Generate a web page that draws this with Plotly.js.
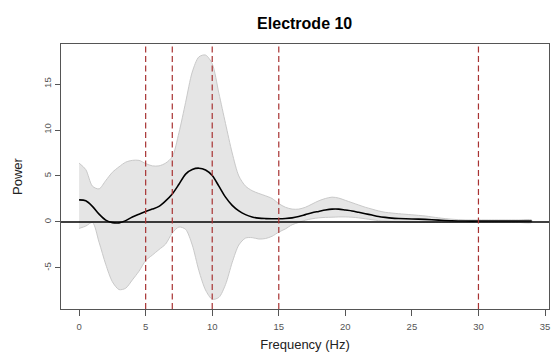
<!DOCTYPE html>
<html>
<head>
<meta charset="utf-8">
<script src="https://cdn.plot.ly/plotly-3.0.1.min.js"></script>
<style>html,body{margin:0;padding:0;background:#fff}</style>
</head>
<body>
<div id="chart" style="width:551px;height:360px"></div>
<script>
var freq  = [0,0.5,1,1.5,2,2.5,3,3.5,4,4.5,5,5.5,6,6.5,7,7.5,8,8.5,9,9.5,10,10.5,11,11.5,12,12.5,13,13.5,14,14.5,15,15.5,16,16.5,17,17.5,18,18.5,19,19.5,20,20.5,21,21.5,22,22.5,23,23.5,24,25,26,27,28,29,30,31,32,33,34];
var meanPower = [2.4,2.3,1.7,0.85,0.2,-0.07,-0.1,0.15,0.55,0.85,1.15,1.4,1.7,2.3,3.05,4.1,5.2,5.7,5.85,5.65,5.05,3.9,2.7,1.8,1.2,0.8,0.55,0.42,0.37,0.35,0.35,0.38,0.45,0.6,0.8,1.0,1.15,1.3,1.4,1.4,1.3,1.2,1.05,0.9,0.75,0.6,0.5,0.42,0.38,0.33,0.28,0.2,0.13,0.1,0.1,0.1,0.1,0.1,0.1];
var upperPower = [6.4,5.7,3.9,3.6,4.5,5.4,6.0,6.5,6.7,6.7,6.35,6.1,6.1,6.4,7.1,9.7,13.0,16.3,17.95,18.15,17.2,14.0,10.7,7.5,5.0,3.9,3.4,3.1,2.85,2.55,2.0,1.6,1.4,1.4,1.6,1.95,2.3,2.55,2.7,2.6,2.35,2.1,1.85,1.6,1.4,1.2,1.05,0.97,0.9,0.78,0.65,0.45,0.3,0.22,0.22,0.22,0.22,0.22,0.22];
var lowerPower = [-0.7,-0.45,-0.05,-2.2,-4.6,-6.5,-7.35,-7.2,-6.3,-5.35,-4.2,-3.6,-3.0,-2.4,-1.2,-0.55,-0.8,-2.5,-5.3,-7.4,-8.4,-8.2,-6.8,-4.4,-2.5,-1.75,-1.7,-1.85,-1.8,-1.55,-1.1,-0.75,-0.3,-0.05,0.2,0.35,0.45,0.5,0.52,0.55,0.55,0.52,0.45,0.35,0.25,0.15,0.1,0.05,0.0,-0.05,-0.05,-0.05,-0.05,-0.05,-0.05,-0.05,-0.05,-0.05,-0.05];
var bandLines = [5,7,10,15,30];
var xTicks = [0,5,10,15,20,25,30,35];
var yTicks = [-5,0,5,10,15];

var bandX = freq.concat(freq.slice().reverse());
var bandY = upperPower.concat(lowerPower.slice().reverse());

var traces = [
  {x: bandX, y: bandY, type: 'scatter', mode: 'lines', fill: 'toself',
   fillcolor: '#e5e5e5', line: {color: '#c9c9c9', width: 1, shape: 'spline', smoothing: 0.8},
   hoverinfo: 'skip', showlegend: false},
  {x: freq, y: meanPower, type: 'scatter', mode: 'lines',
   line: {color: '#000', width: 1.6, shape: 'spline', smoothing: 0.8}, showlegend: false}
];

var shapes = [{type: 'line', xref: 'paper', x0: 0, x1: 1, yref: 'y', y0: 0, y1: 0,
               line: {color: '#000', width: 1.3}}];
bandLines.forEach(function (f) {
  shapes.push({type: 'line', xref: 'x', x0: f, x1: f, yref: 'paper', y0: 0, y1: 1,
               line: {color: '#a83232', width: 1.2, dash: '6px,3.5px'}});
});

var layout = {
  width: 551, height: 360,
  margin: {l: 61, r: 2, t: 44, b: 51},
  paper_bgcolor: '#fff', plot_bgcolor: '#fff',
  font: {family: 'Liberation Sans, Arial, sans-serif', color: '#222'},
  title: {text: '<b>Electrode 10</b>', font: {size: 16, color: '#000'},
          x: 0.553, xanchor: 'center', y: 1 - 23/360, yanchor: 'middle', yref: 'container'},
  xaxis: {range: [-1.36, 35.3], tickvals: xTicks, ticktext: xTicks.map(String),
          showgrid: false, zeroline: false, showline: true, mirror: true,
          linecolor: '#555', linewidth: 1, ticks: 'outside', ticklen: 6, tickcolor: '#555',
          ticklabelstandoff: 3,
          tickfont: {size: 9.5, color: '#555'},
          title: {text: 'Frequency (Hz)', font: {size: 13, color: '#222'}, standoff: 8}},
  yaxis: {range: [-9.46, 19.35], tickvals: yTicks, ticktext: yTicks.map(String),
          showgrid: false, zeroline: false, showline: true, mirror: true,
          linecolor: '#555', linewidth: 1, ticks: 'outside', ticklen: 5, tickcolor: '#555',
          tickangle: -90, tickfont: {size: 9.5, color: '#555'},
          title: {text: 'Power', font: {size: 13, color: '#222'}, standoff: 16}},
  shapes: shapes
};

Plotly.newPlot('chart', traces, layout, {staticPlot: true, displayModeBar: false});
</script>
</body>
</html>
